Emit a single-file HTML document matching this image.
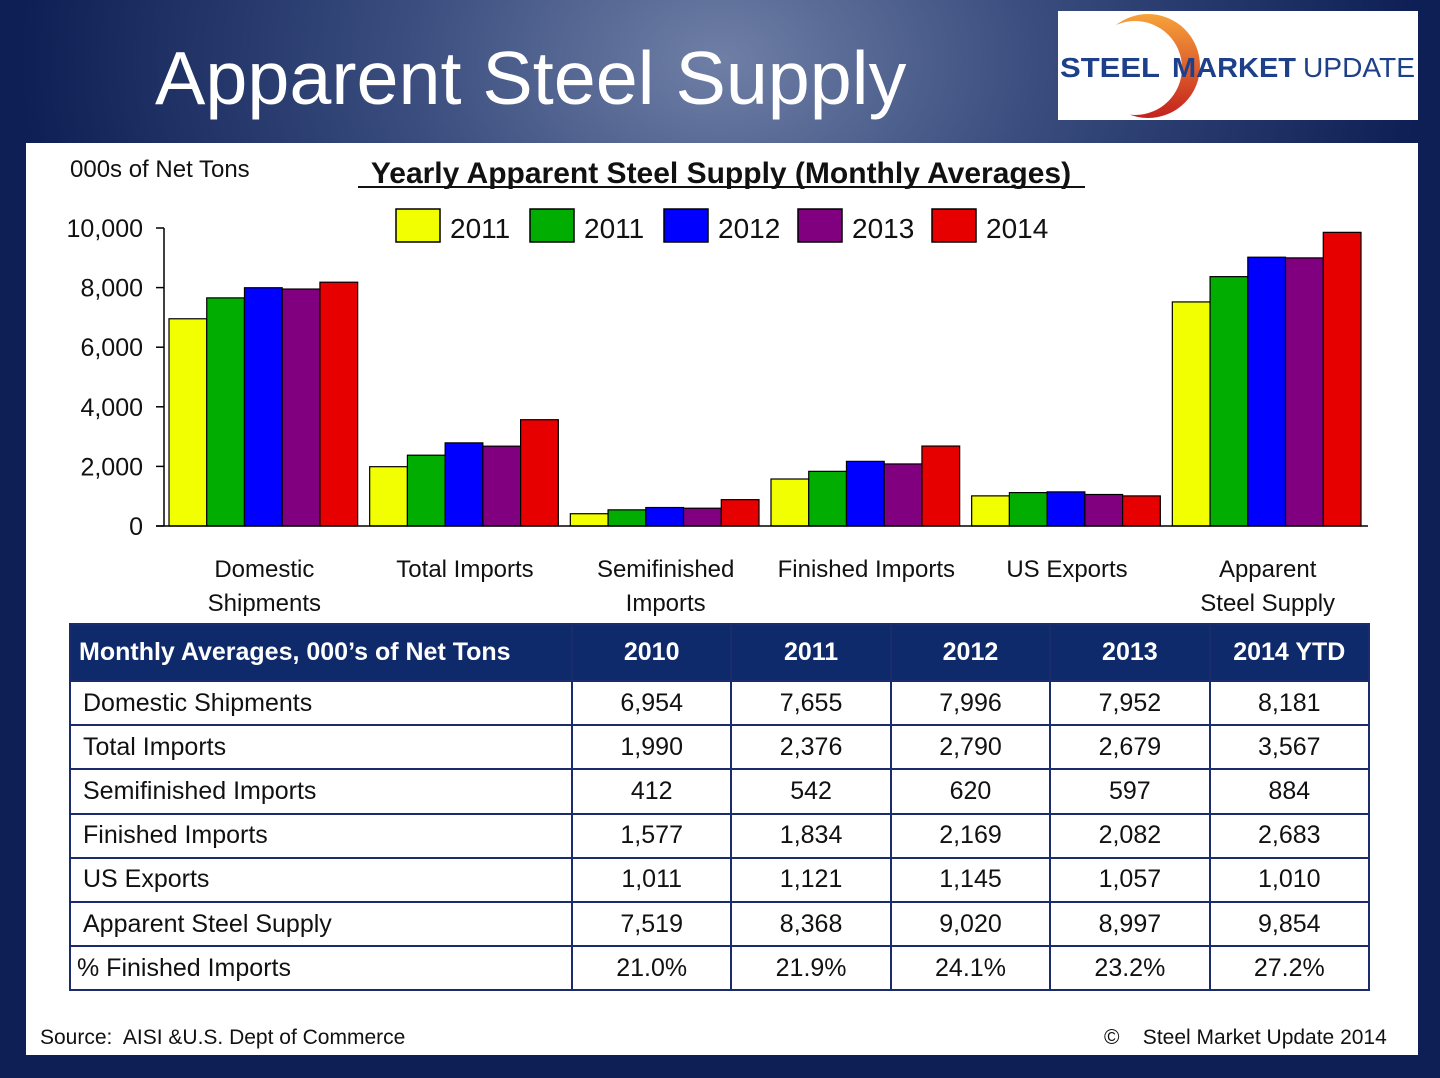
<!DOCTYPE html>
<html><head><meta charset="utf-8">
<style>
body{margin:0;width:1440px;height:1078px;overflow:hidden;font-family:"Liberation Sans",sans-serif;
background:radial-gradient(ellipse 700px 500px at 720px 60px,#6f7fa6 0%,#3a4d7e 45%,#0e1f55 100%);background-color:#0e1f55;position:relative}
.abs{position:absolute}
#title{left:155px;top:35px;color:#fff;font-size:75.5px;white-space:nowrap}
#logo{left:1058px;top:11px;width:360px;height:109px;background:#fff;overflow:hidden}
#panel{left:26px;top:143px;width:1392px;height:912px;background:#fff}
table{position:absolute;left:69px;top:623px;border-collapse:collapse;font-size:25px;color:#111;table-layout:fixed;width:1301px}
td,th{border:2px solid #1a2c6b;height:42.2px;padding:0;text-align:center}
th{background:#0f2a6b;color:#fff;font-weight:bold;height:55px;font-size:25px}
td.l{text-align:left;padding-left:12px}
</style></head><body>
<div id="title" class="abs">Apparent Steel Supply</div>
<div id="logo" class="abs">
<svg width="360" height="109">
<defs><linearGradient id="lg" x1="0" y1="0" x2="0" y2="1"><stop offset="0" stop-color="#f7a33a"/><stop offset="1" stop-color="#c4201e"/></linearGradient></defs>
<circle cx="90" cy="55" r="52" fill="url(#lg)"/>
<circle cx="77" cy="57" r="47" fill="#fff"/>
<text x="2" y="66" font-family="Liberation Sans" font-weight="bold" font-size="28" fill="#1e3f8a" textLength="100" lengthAdjust="spacingAndGlyphs">STEEL</text>
<text x="114" y="66" font-family="Liberation Sans" font-weight="bold" font-size="28" fill="#1e3f8a" textLength="124" lengthAdjust="spacingAndGlyphs">MARKET</text>
<text x="245" y="66" font-family="Liberation Sans" font-size="28" fill="#1e3f8a" textLength="112" lengthAdjust="spacingAndGlyphs">UPDATE</text>
</svg></div>
<div id="panel" class="abs"></div>
<svg class="abs" style="left:0;top:0" width="1440" height="620" id="chart"></svg>
<table>
<colgroup><col style="width:502px"><col><col><col><col><col></colgroup>
<tr><th style="text-align:left;padding-left:8px">Monthly Averages, 000’s of Net Tons</th><th>2010</th><th>2011</th><th>2012</th><th>2013</th><th>2014 YTD</th></tr>
<tr><td class="l">Domestic Shipments</td><td>6,954</td><td>7,655</td><td>7,996</td><td>7,952</td><td>8,181</td></tr>
<tr><td class="l">Total Imports</td><td>1,990</td><td>2,376</td><td>2,790</td><td>2,679</td><td>3,567</td></tr>
<tr><td class="l">Semifinished Imports</td><td>412</td><td>542</td><td>620</td><td>597</td><td>884</td></tr>
<tr><td class="l">Finished Imports</td><td>1,577</td><td>1,834</td><td>2,169</td><td>2,082</td><td>2,683</td></tr>
<tr><td class="l">US Exports</td><td>1,011</td><td>1,121</td><td>1,145</td><td>1,057</td><td>1,010</td></tr>
<tr><td class="l">Apparent Steel Supply</td><td>7,519</td><td>8,368</td><td>9,020</td><td>8,997</td><td>9,854</td></tr>
<tr><td class="l" style="padding-left:6px">% Finished Imports</td><td>21.0%</td><td>21.9%</td><td>24.1%</td><td>23.2%</td><td>27.2%</td></tr>
</table>
<div class="abs" style="left:40px;top:1026px;font-size:21px;color:#111">Source:&nbsp; AISI &amp;U.S. Dept of Commerce</div>
<div class="abs" style="left:1104px;top:1026px;font-size:21px;color:#111">©&nbsp;&nbsp;&nbsp; Steel Market Update 2014</div>
<script>
const categories=[["Domestic","Shipments"],["Total Imports"],["Semifinished","Imports"],["Finished Imports"],["US Exports"],["Apparent","Steel Supply"]];
const seriesNames=["2011","2011","2012","2013","2014"];
const colors=["#f2ff00","#00ad00","#0000ff","#800080","#e60000"];
const s2010=[6954,1990,412,1577,1011,7519];
const s2011=[7655,2376,542,1834,1121,8368];
const s2012=[7996,2790,620,2169,1145,9020];
const s2013=[7952,2679,597,2082,1057,8997];
const s2014=[8181,3567,884,2683,1010,9854];
const ticks=[0,2000,4000,6000,8000,10000];
const tickLabels=["0","2,000","4,000","6,000","8,000","10,000"];
const series=[s2010,s2011,s2012,s2013,s2014];
const svg=document.getElementById('chart');const NS='http://www.w3.org/2000/svg';
const x0=164,x1=1368,y0=526,yTop=228,ymax=10000;
const y=v=>y0-(v/ymax)*(y0-yTop);
const gw=(x1-x0)/categories.length;
function mk(t,a,txt){const e=document.createElementNS(NS,t);for(const k in a)e.setAttribute(k,a[k]);if(txt!=null)e.textContent=txt;svg.appendChild(e);return e;}
let e=mk('text',{x:70,y:177,'font-size':24,fill:'#111'},'000s of Net Tons');

e=mk('text',{x:721,y:183,'font-size':30,'font-weight':'bold','text-anchor':'middle',fill:'#111'},'Yearly Apparent Steel Supply (Monthly Averages)');

mk('line',{x1:358,y1:187,x2:1085,y2:187,stroke:'#111','stroke-width':2});
ticks.forEach((t,i)=>{
 e=mk('line',{x1:156,x2:x0,y1:y(t),y2:y(t),stroke:'#000','stroke-width':1.5});
 
 e=mk('text',{x:143,y:y(t)+9,'font-size':25,'text-anchor':'end',fill:'#111'},tickLabels[i]);
 
});
categories.forEach((c,ci)=>{
 const gx=x0+ci*gw+5,bw=(gw-12)/5;
 series.forEach((s,si)=>{
  e=mk('rect',{x:gx+si*bw,y:y(s[ci]),width:bw,height:y0-y(s[ci]),fill:colors[si],stroke:'#000','stroke-width':1.2});
  
 });
 c.forEach((ln,li)=>{
  e=mk('text',{x:x0+ci*gw+gw/2,y:577+li*34,'font-size':24,'text-anchor':'middle',fill:'#111'},ln);
  
 });
});
e=mk('line',{x1:x0,x2:x0,y1:yTop,y2:y0,stroke:'#000','stroke-width':1.5});

e=mk('line',{x1:156,x2:x1,y1:y0,y2:y0,stroke:'#000','stroke-width':1.5});

seriesNames.forEach((n,i)=>{
 const lx=396+i*134;
 e=mk('rect',{x:lx,y:209,width:44,height:33,fill:colors[i],stroke:'#000','stroke-width':1.5});
 
 e=mk('text',{x:lx+54,y:238,'font-size':28,fill:'#111'},n);
 
});
</script>
</body></html>
